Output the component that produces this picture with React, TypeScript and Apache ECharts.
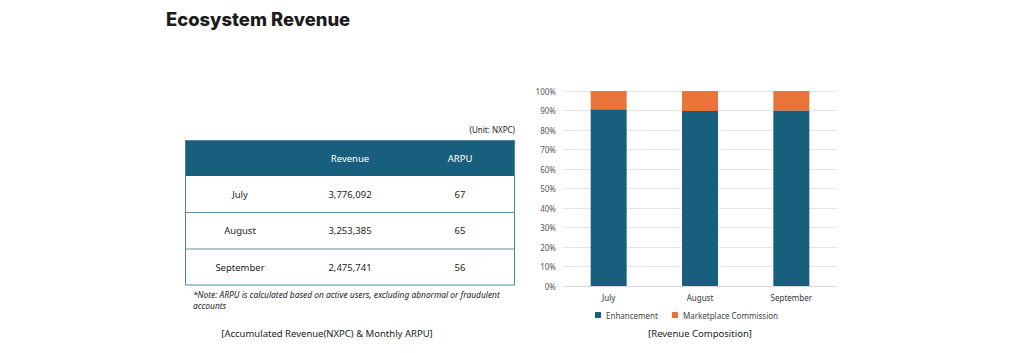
import React, { useEffect, useRef } from "react";
import * as echarts from "echarts";

const months = ["July", "August", "September"];
const revenue = ["3,776,092", "3,253,385", "2,475,741"];
const arpu = ["67", "65", "56"];
const tableHeaders = ["", "Revenue", "ARPU"];
const enhancement = [90.7, 89.8, 90.0];
const commission = [9.3, 10.2, 10.0];
const seriesNames = ["Enhancement", "Marketplace Commission"];

const TEAL = "#185f7e";
const ORANGE = "#e8743a";
const FONT = "'Noto Sans', 'Open Sans', sans-serif";

export default function App() {
  const ref = useRef<HTMLDivElement>(null);
  useEffect(() => {
    const chart = echarts.init(ref.current!, null, { renderer: "svg" });
    const tLeft = 185, tRight = 515, headTop = 140, headBot = 176;
    const rowH = 36.5;
    const colX = [240, 350, 460];
    const g: any[] = [];
    g.push({ type: "text", left: 166, top: 10, style: { text: "Ecosystem Revenue", font: `800 18.4px Inter, sans-serif`, fill: "#1c1c1c" } });
    g.push({ type: "text", x: tRight, y: 129, style: { text: "(Unit: NXPC)", font: `8px ${FONT}`, fill: "#222", align: "right", verticalAlign: "middle" } });
    g.push({ type: "rect", shape: { x: tLeft, y: headTop, width: tRight - tLeft, height: headBot - headTop }, style: { fill: TEAL } });
    tableHeaders.forEach((h, i) => {
      if (!h) return;
      g.push({ type: "text", x: colX[i], y: (headTop + headBot) / 2, style: { text: h, font: `9.5px ${FONT}`, fill: "#ffffff", align: "center", verticalAlign: "middle" } });
    });
    months.forEach((m, r) => {
      const y0 = headBot + r * rowH;
      const cells = [m, revenue[r], arpu[r]];
      cells.forEach((c, i) => {
        g.push({ type: "text", x: colX[i], y: y0 + rowH / 2, style: { text: c, font: `9.5px ${FONT}`, fill: "#222", align: "center", verticalAlign: "middle" } });
      });
      if (r > 0) {
        g.push({ type: "line", shape: { x1: tLeft, y1: y0, x2: tRight, y2: y0 }, style: { stroke: "#5f90a6", lineWidth: 1 } });
      }
    });
    const tBot = headBot + months.length * rowH;
    g.push({ type: "rect", shape: { x: tLeft + 0.5, y: headTop + 0.5, width: tRight - tLeft - 1, height: tBot - headTop - 1 }, style: { fill: "none", stroke: "#4f86a0", lineWidth: 1 } });
    g.push({ type: "text", x: 193, y: 294, style: { text: "*Note: ARPU is calculated based on active users, excluding abnormal or fraudulent", font: `italic 8.4px ${FONT}`, fill: "#222", verticalAlign: "middle" } });
    g.push({ type: "text", x: 193, y: 305, style: { text: "accounts", font: `italic 8.4px ${FONT}`, fill: "#222", verticalAlign: "middle" } });
    g.push({ type: "text", x: 327, y: 333, style: { text: "[Accumulated Revenue(NXPC) & Monthly ARPU]", font: `9.5px ${FONT}`, fill: "#222", align: "center", verticalAlign: "middle" } });
    g.push({ type: "text", x: 700, y: 333, style: { text: "[Revenue Composition]", font: `9.5px ${FONT}`, fill: "#222", align: "center", verticalAlign: "middle" } });

    chart.setOption({
      animation: false,
      graphic: g,
      grid: { left: 563, right: 180, top: 91, bottom: 67 },
      legend: {
        data: seriesNames,
        left: 590,
        top: 306,
        icon: "rect",
        itemWidth: 6,
        itemHeight: 6,
        itemGap: 14,
        textStyle: { fontSize: 8, color: "#444", fontFamily: FONT },
      },
      xAxis: {
        type: "category",
        data: months,
        axisTick: { show: false },
        axisLine: { lineStyle: { color: "#d9d9d9" } },
        axisLabel: { fontSize: 8, color: "#333", fontFamily: FONT, margin: 7 },
      },
      yAxis: {
        type: "value",
        min: 0,
        max: 100,
        interval: 10,
        axisLabel: { formatter: "{value}%", fontSize: 8, color: "#555", fontFamily: FONT, margin: 7 },
        splitLine: { lineStyle: { color: "#e4e4e4" } },
      },
      series: [
        { name: seriesNames[0], type: "bar", stack: "s", data: enhancement, barWidth: 36, itemStyle: { color: TEAL } },
        { name: seriesNames[1], type: "bar", stack: "s", data: commission, barWidth: 36, itemStyle: { color: ORANGE } },
      ],
    });
    return () => chart.dispose();
  }, []);
  return <div ref={ref} style={{ position: "fixed", left: 0, top: 0, width: 1017, height: 353, background: "#fff" }} />;
}
